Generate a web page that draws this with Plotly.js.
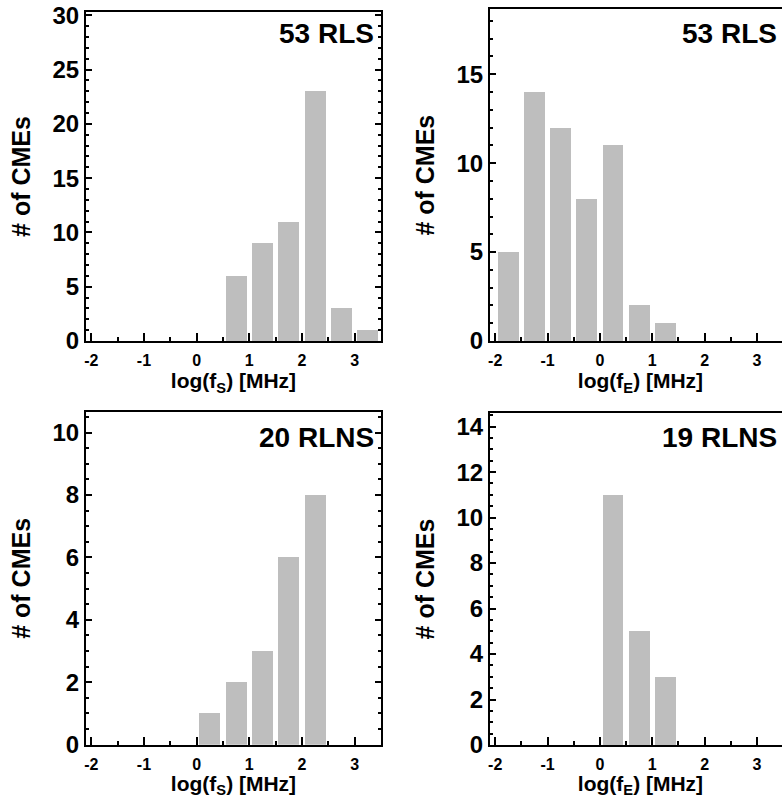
<!DOCTYPE html>
<html><head><meta charset="utf-8">
<script src="https://cdn.plot.ly/plotly-3.0.1.min.js"></script>
<style>html,body{margin:0;padding:0;overflow:hidden;background:#fff}#chart{width:800px;height:798px}</style>
</head><body><div id="chart"></div><script>
// Histogram data (bin centres in log10 MHz, bin width 0.5)
const binCentersS_RLS = [0.75, 1.25, 1.75, 2.25, 2.75, 3.25];
const countsS_RLS = [6, 9, 11, 23, 3, 1];
const binCentersE_RLS = [-1.75, -1.25, -0.75, -0.25, 0.25, 0.75, 1.25];
const countsE_RLS = [5, 14, 12, 8, 11, 2, 1];
const binCentersS_RLNS = [0.25, 0.75, 1.25, 1.75, 2.25];
const countsS_RLNS = [1, 2, 3, 6, 8];
const binCentersE_RLNS = [0.25, 0.75, 1.25];
const countsE_RLNS = [11, 5, 3];
const xTickVals = [-2, -1, 0, 1, 2, 3];
const xTickText = ['-2', '-1', '0', '1', '2', '3'];
const panelLabels = ['53 RLS', '53 RLS', '20 RLNS', '19 RLNS'];
const xTitles = ['log(f<sub>S</sub>) [MHz]', 'log(f<sub>E</sub>) [MHz]', 'log(f<sub>S</sub>) [MHz]', 'log(f<sub>E</sub>) [MHz]'];
const yTitle = '# of CMEs';

const W = 800, H = 798;
const FONT = 'Liberation Sans, Arial, Helvetica, sans-serif';
const BAR = '#bebebe';

// panel boxes in px: [left, right, top, bottom]
const boxes = [
  [86, 381, 12, 341],
  [490, 791, 9.3, 341],
  [86, 381, 412, 744.7],
  [490, 791, 413, 745]
];
const xRanges = [[-2.1, 3.5], [-2.1, 3.65], [-2.1, 3.5], [-2.1, 3.65]];
const yRanges = [[0, 30.3], [0, 18.65], [0, 10.66], [0, 14.6]];
const yDticks = [5, 5, 2, 2];
const yMinor = [1, 1, 0.5, 0.5];
// label anchor: right edge px, centre y px
const labelPos = [[376, 34], [779, 34], [376, 437.5], [779, 437]];

const xs = [binCentersS_RLS, binCentersE_RLS, binCentersS_RLNS, binCentersE_RLNS];
const ys = [countsS_RLS, countsE_RLS, countsS_RLNS, countsE_RLNS];

const data = [];
const layout = {
  width: W, height: H,
  margin: {l: 0, r: 0, t: 0, b: 0},
  paper_bgcolor: '#fff', plot_bgcolor: '#fff',
  showlegend: false,
  bargap: 0,
  annotations: []
};

for (let i = 0; i < 4; i++) {
  const n = i === 0 ? '' : String(i + 1);
  const [l, r, t, b] = boxes[i];
  data.push({
    type: 'bar', x: xs[i], y: ys[i], width: 0.4,
    marker: {color: BAR, line: {width: 0}},
    xaxis: 'x' + n, yaxis: 'y' + n, hoverinfo: 'x+y'
  });
  layout['xaxis' + n] = {
    domain: [l / W, r / W], anchor: 'y' + n,
    range: xRanges[i], tickmode: 'array', tickvals: xTickVals, ticktext: xTickText,
    ticks: 'inside', ticklen: 8, tickwidth: 2, tickcolor: '#000',
    minor: {tick0: 0, dtick: 0.5, ticks: 'inside', ticklen: 4, tickwidth: 2, tickcolor: '#000'},
    showline: true, linewidth: 2, linecolor: '#000', mirror: true,
    showgrid: false, zeroline: false, automargin: false,
    ticklabelstandoff: 4,
    tickfont: {family: FONT, size: 16, weight: 700, color: '#000'},
    title: {text: xTitles[i], standoff: 1, font: {family: FONT, size: 21, weight: 700, color: '#000'}}
  };
  layout['yaxis' + n] = {
    domain: [1 - b / H, 1 - t / H], anchor: 'x' + n,
    range: yRanges[i], tick0: 0, dtick: yDticks[i],
    ticks: 'inside', ticklen: 6, tickwidth: 2, tickcolor: '#000',
    minor: {dtick: yMinor[i], ticks: 'inside', ticklen: 3, tickwidth: 2, tickcolor: '#000'},
    showline: true, linewidth: 2, linecolor: '#000', mirror: 'ticks',
    showgrid: false, zeroline: false, automargin: false,
    ticklabelstandoff: 0,
    tickfont: {family: FONT, size: 24, weight: 700, color: '#000'},
    title: {text: yTitle, standoff: 15, font: {family: FONT, size: 25, weight: 700, color: '#000'}}
  };
  layout.annotations.push({
    text: panelLabels[i], xref: 'paper', yref: 'paper',
    x: labelPos[i][0] / W, y: 1 - labelPos[i][1] / H, xanchor: 'right', yanchor: 'middle',
    showarrow: false, font: {family: FONT, size: 28, weight: 700, color: '#000'}
  });
}

Plotly.newPlot('chart', data, layout, {staticPlot: true, displayModeBar: false});
</script></body></html>
